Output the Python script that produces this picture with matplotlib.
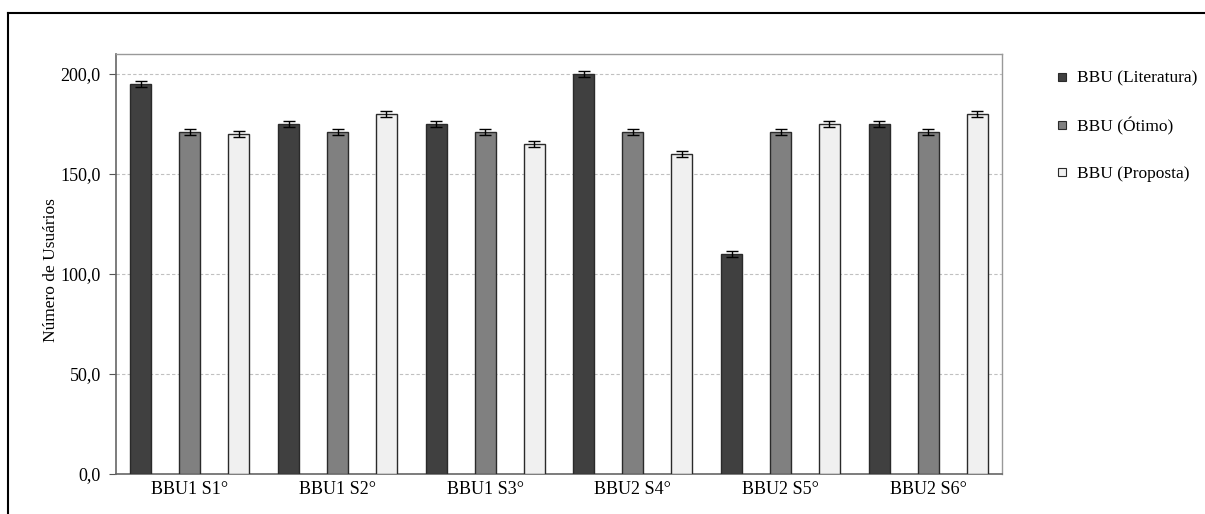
import matplotlib
matplotlib.use("Agg")
import matplotlib.pyplot as plt
from matplotlib.lines import Line2D
import numpy as np

categories = ["BBU1 S1°", "BBU1 S2°", "BBU1 S3°", "BBU2 S4°", "BBU2 S5°", "BBU2 S6°"]
series_names = ["BBU (Literatura)", "BBU (Ótimo)", "BBU (Proposta)"]
literatura = [195, 175, 175, 200, 110, 175]
otimo = [171, 171, 171, 171, 171, 171]
proposta = [170, 180, 165, 160, 175, 180]
erro = [1.5, 1.5, 1.5]
y_ticks = [0, 50, 100, 150, 200]
y_tick_labels = ["0,0", "50,0", "100,0", "150,0", "200,0"]

plt.rcParams["font.family"] = ["Liberation Serif", "DejaVu Serif"]

fig = plt.figure(figsize=(12.05, 5.14), dpi=100)
ax = fig.add_axes([116 / 1205, 1 - 474 / 514, 886 / 1205, 420 / 514])

colors = ["#404040", "#808080", "#f0f0f0"]
offsets = [-0.331, 0.0, 0.331]
width = 0.142
x = np.arange(len(categories))
for vals, col, off, err in zip([literatura, otimo, proposta], colors, offsets, erro):
    ax.bar(x + off, vals, width=width, color=col, edgecolor="#2a2a2a",
           linewidth=1.0, zorder=3,
           yerr=err, error_kw=dict(ecolor="black", elinewidth=1.0, capsize=4, capthick=1.0, zorder=4))

ax.set_xlim(-0.5, len(categories) - 0.5)
ax.set_ylim(0, 210)
ax.set_yticks(y_ticks)
ax.set_yticklabels(y_tick_labels, fontsize=13)
ax.set_xticks(x)
ax.set_xticklabels(categories, fontsize=13)
ax.tick_params(axis="x", length=0, pad=5)
ax.tick_params(axis="y", length=5, color="#555555", pad=6)
ax.yaxis.grid(True, linestyle=(0, (3, 2)), color="#c0c0c0", linewidth=0.8, zorder=0)
ax.set_axisbelow(True)
for s in ["left", "bottom"]:
    ax.spines[s].set_color("#666666")
    ax.spines[s].set_linewidth(1.2)
for s in ["top", "right"]:
    ax.spines[s].set_color("#999999")
    ax.spines[s].set_linewidth(1.0)
ax.set_ylabel("Número de Usuários", fontsize=12.5)
ax.yaxis.set_label_coords(-0.064, 0.486)

handles = [Line2D([0], [0], marker="s", linestyle="none", markersize=6,
                  markerfacecolor=c, markeredgecolor="#2a2a2a", markeredgewidth=0.8)
           for c in colors]
fig.legend(handles, series_names, loc="upper left", bbox_to_anchor=(1046 / 1205, 1 - 62 / 514),
           frameon=False, fontsize=12.5, labelspacing=1.75, handletextpad=0.5,
           handlelength=0.8, borderpad=0)

# outer frame (top and left edges visible)
fig.add_artist(Line2D([8 / 1205, 1.0], [1 - 13 / 514, 1 - 13 / 514], color="black", linewidth=1.5))
fig.add_artist(Line2D([8 / 1205, 8 / 1205], [0.0, 1 - 13 / 514], color="black", linewidth=1.5))

fig.savefig("out.png", dpi=100)
